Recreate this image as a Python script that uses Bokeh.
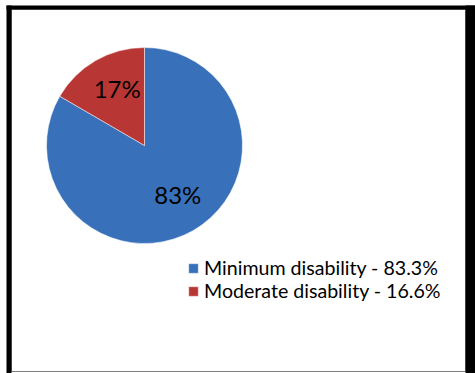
import numpy as np
from bokeh.plotting import figure
from bokeh.models import Range1d, ColumnDataSource, Legend, LegendItem
from bokeh.core.properties import value
from bokeh.embed import file_html
from bokeh.resources import INLINE

categories = ["Minimum disability", "Moderate disability"]
percent = [83.3, 16.6]
slice_labels = ["83%", "17%"]
colors = ["#3871BA", "#B83735"]

W, H = 475, 373
p = figure(width=W, height=H, output_backend="svg", toolbar_location=None,
           x_range=Range1d(0, W), y_range=Range1d(0, H), min_border=0)
p.axis.visible = False
p.grid.visible = False
p.outline_line_color = None
p.background_fill_color = "white"
p.border_fill_color = "white"

# chart frame (decoration)
p.quad(left=[11], right=[465], bottom=[2], top=[364], fill_color="white",
       line_color="#808080", line_width=1)
p.quad(left=[6], right=[11], bottom=[0], top=[368], fill_color="black", line_color=None)
p.quad(left=[6], right=[475], bottom=[364], top=[368], fill_color="black", line_color=None)
p.quad(left=[465], right=[475], bottom=[0], top=[368], fill_color="black", line_color=None)

cx, cy, r = 144, 373 - 145, 98
vals = np.array(percent)
frac = vals / vals.sum()
# Moderate slice starts at 12 o'clock going counter-clockwise; minimum fills the rest
mod_start = np.pi / 2
mod_end = mod_start + frac[1] * 2 * np.pi
starts = [mod_end, mod_start]
ends = [mod_start + 2 * np.pi, mod_end]
src = ColumnDataSource(dict(start=starts, end=ends, color=colors,
                            label=[f"{c} - {v}%" for c, v in zip(categories, percent)]))
wr = p.wedge(x=cx, y=cy, radius=r, start_angle="start", end_angle="end",
             fill_color="color", line_color="white", line_width=0.5, source=src)

mids = [(s + e) / 2 for s, e in zip(starts, ends)]
lx = [cx + 0.62 * r * np.cos(m) for m in mids]
ly = [cy + 0.62 * r * np.sin(m) for m in mids]
p.text(x=lx, y=ly, text=slice_labels, text_align="center", text_baseline="middle",
       text_font=value("Lato"), text_font_size="24px", text_color="black",
       x_offset=3, y_offset=-4)

legend = Legend(items=[LegendItem(label=src.data["label"][i], renderers=[wr], index=i)
                       for i in range(2)],
                location=(187, 71), glyph_width=12, glyph_height=12,
                label_text_font="Lato", label_text_font_size="19.6px",
                label_text_line_height=0.95,
                label_standoff=5, spacing=0, padding=0, border_line_color=None,
                background_fill_alpha=0, label_height=18, label_text_color="black")
p.add_layout(legend, "center")

open("out.html", "w").write(file_html(p, INLINE))
